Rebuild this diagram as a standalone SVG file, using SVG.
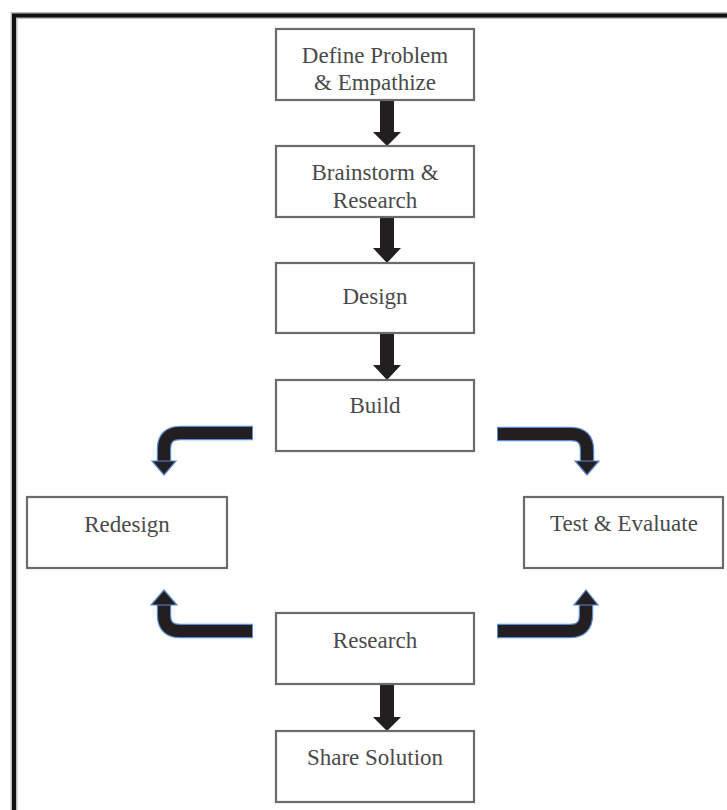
<svg xmlns="http://www.w3.org/2000/svg" width="727" height="810" viewBox="0 0 727 810">
<style>
.box{fill:#fff;stroke:#6b6b6b;stroke-width:2.2}
.lbl{font-family:"Liberation Serif","Times New Roman",serif;font-size:23px;fill:#4a4a4a;text-anchor:middle}
.dn{fill:#231f20}
.glow{fill:none;stroke:#5b8bd0;stroke-width:14.5}
.bar{fill:none;stroke:#231f20;stroke-width:12}
.head{fill:#231f20;stroke:#5b8bd0;stroke-width:1.2;stroke-linejoin:miter}
</style>
<rect x="0" y="0" width="727" height="810" fill="#fff"/>
<g id="frame">
<path d="M14,810 V15.5 H727" fill="none" stroke="#bdbdbd" stroke-width="7"/>
<path d="M14,810 V15.5 H727" fill="none" stroke="#111" stroke-width="4"/>
</g>
<g id="connectors">
<path class="dn" d="M380,100 H394 V132 H401 L387,146 L373,132 H380 Z"/>
<path class="dn" d="M380,217 H394 V248 H401 L387,263 L373,248 H380 Z"/>
<path class="dn" d="M380,333 H394 V365 H401 L387,380 L373,365 H380 Z"/>
<path class="dn" d="M380,684 H394 V717 H401 L387,731 L373,717 H380 Z"/>
<path class="glow" d="M253,433 H180 Q164,433 164,449 V462"/>
<path class="bar" d="M252,433 H180 Q164,433 164,449 V462"/>
<polygon class="head" points="152,461 176,461 164,475"/>
<path class="glow" d="M497,434 H571 Q587,434 587,450 V462"/>
<path class="bar" d="M498,434 H571 Q587,434 587,450 V462"/>
<polygon class="head" points="575,461 599,461 587,475"/>
<path class="glow" d="M253,631 H180 Q164,631 164,615 V604"/>
<path class="bar" d="M252,631 H180 Q164,631 164,615 V604"/>
<polygon class="head" points="151,605 177,605 164,590"/>
<path class="glow" d="M497,631 H570 Q586,631 586,615 V604"/>
<path class="bar" d="M498,631 H570 Q586,631 586,615 V604"/>
<polygon class="head" points="574,605 598,605 586,590"/>
</g>
<g id="define">
<rect class="box" x="276" y="29" width="198" height="71"/>
<text class="lbl" x="375" y="63">Define Problem</text>
<text class="lbl" x="375" y="90">&amp; Empathize</text>
</g>
<g id="brainstorm">
<rect class="box" x="276" y="146" width="198" height="71"/>
<text class="lbl" x="375" y="180">Brainstorm &amp;</text>
<text class="lbl" x="375" y="208">Research</text>
</g>
<g id="design">
<rect class="box" x="276" y="263" width="198" height="70"/>
<text class="lbl" x="375" y="304">Design</text>
</g>
<g id="build">
<rect class="box" x="276" y="380" width="198" height="71"/>
<text class="lbl" x="375" y="413">Build</text>
</g>
<g id="redesign">
<rect class="box" x="27" y="497" width="200" height="71"/>
<text class="lbl" x="127" y="532">Redesign</text>
</g>
<g id="test">
<rect class="box" x="524" y="497" width="199" height="71"/>
<text class="lbl" x="624" y="531">Test &amp; Evaluate</text>
</g>
<g id="research">
<rect class="box" x="276" y="613" width="198" height="71"/>
<text class="lbl" x="375" y="648">Research</text>
</g>
<g id="share">
<rect class="box" x="276" y="731" width="198" height="71"/>
<text class="lbl" x="375" y="765">Share Solution</text>
</g>
</svg>
